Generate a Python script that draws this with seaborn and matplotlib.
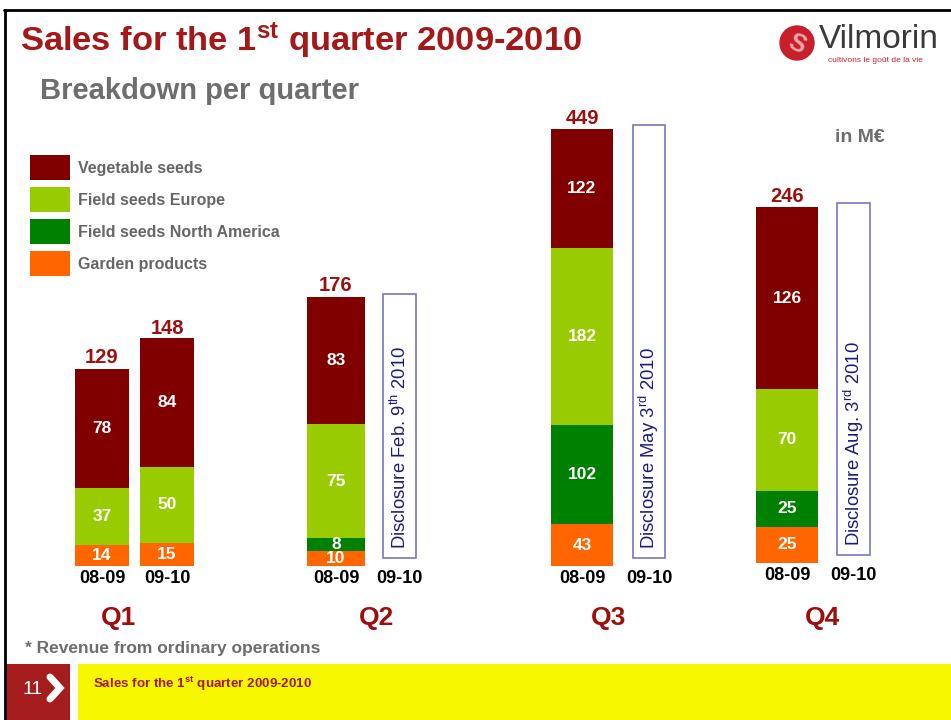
import numpy as np
import pandas as pd
import matplotlib
matplotlib.use("Agg")
import matplotlib.pyplot as plt
from matplotlib.patches import Patch, Ellipse, Rectangle
import seaborn as sns

quarters = ["Q1", "Q2", "Q3", "Q4"]
periods = ["08-09", "09-10"]
segments = ["Vegetable seeds", "Field seeds Europe",
            "Field seeds North America", "Garden products"]
seg_colors = ["#800000", "#99cc00", "#008000", "#ff6600"]

# 08-09 breakdown per quarter (M EUR)
vegetable_0809 = [78, 83, 122, 126]
field_eu_0809 = [37, 75, 182, 70]
field_na_0809 = [0, 8, 102, 25]
garden_0809 = [14, 10, 43, 25]
total_0809 = [129, 176, 449, 246]

# 09-10: only Q1 disclosed
vegetable_0910 = [84, None, None, None]
field_eu_0910 = [50, None, None, None]
field_na_0910 = [0, None, None, None]
garden_0910 = [15, None, None, None]
total_0910 = [148, None, None, None]

disclosure = [None, "Disclosure Feb. 9$^{th}$ 2010",
              "Disclosure May 3$^{rd}$ 2010", "Disclosure Aug. 3$^{rd}$ 2010"]

sns.set_theme(style="white")
plt.rcParams["font.family"] = ["Liberation Sans", "DejaVu Sans"]
plt.rcParams["mathtext.fontset"] = "custom"
plt.rcParams["mathtext.rm"] = "Liberation Sans"
plt.rcParams["mathtext.it"] = "Liberation Sans:italic"
plt.rcParams["mathtext.bf"] = "Liberation Sans:bold"
plt.rcParams["mathtext.default"] = "regular"

rows = []
for i, q in enumerate(quarters):
    series = {
        "08-09": [vegetable_0809, field_eu_0809, field_na_0809, garden_0809],
        "09-10": [vegetable_0910, field_eu_0910, field_na_0910, garden_0910],
    }
    for p, arrs in series.items():
        cum = 0
        # stack from the bottom up
        for seg, arr in zip(segments[::-1], arrs[::-1]):
            v = arr[i]
            if v is None:
                continue
            cum += v
            rows.append({"quarter": q, "period": p, "segment": seg,
                         "value": v, "top": cum})
df = pd.DataFrame(rows)

W, H = 951, 720
fig = plt.figure(figsize=(W / 100, H / 100), dpi=100)
fig.patch.set_facecolor("white")

# (first bar centre px, spacing px, bar px, box px, baseline px, units shown)
layout = [(102, 65, 54, 0, 566, 298),
          (336, 63.5, 58, 33, 566, 298),
          (582, 67, 62, 32, 566, 469),
          (787, 66.5, 62, 33, 563, 313)]
q_label_x = [118, 376, 609, 822]
top_px = 110

red = "#a31919"
for i, q in enumerate(quarters):
    c0, sp, bw, boxw, base, ymax = layout[i]
    left = c0 - sp / 2
    ax = fig.add_axes([left / W, 1 - base / H, 2 * sp / W, (base - top_px) / H])
    ax.set_facecolor("none")
    sub = df[(df.quarter == q) & (df.value > 0)]
    for seg, col in zip(segments, seg_colors):
        s = sub[sub.segment == seg]
        if s.empty:
            continue
        sns.barplot(data=s, x="period", y="top", order=periods, color=col,
                    width=bw / sp, saturation=1, errorbar=None, linewidth=0,
                    ax=ax)
    for _, r in sub.iterrows():
        xpos = periods.index(r.period)
        ax.text(xpos, r.top - r.value / 2, str(r.value), ha="center",
                va="center", color="white", fontsize=12.5, fontweight="bold")
    for j, tot in enumerate([total_0809[i], total_0910[i]]):
        if tot is not None:
            ax.annotate(str(tot), (j, tot), xytext=(0, 1),
                        textcoords="offset points", ha="center", va="bottom",
                        color="#9c0f0f", fontsize=14.5, fontweight="bold")
    if disclosure[i] is not None:
        b0 = 0.018 * ymax
        ax.bar(1, total_0809[i] * 1.01 - b0, bottom=b0, width=boxw / sp,
               facecolor="white", edgecolor="#7777c4", linewidth=1.2)
        ax.text(1, b0 + 0.02 * ymax, disclosure[i], rotation=90, ha="center",
                va="bottom", color="#1c1c80", fontsize=13.3)
    ax.set_ylim(0, ymax)
    ax.set_xlim(-0.5, 1.5)
    ax.set_xlabel("")
    ax.set_ylabel("")
    ax.set_yticks([])
    ax.tick_params(axis="x", length=0, labelsize=13, pad=3, labelcolor="black")
    for t in ax.get_xticklabels():
        t.set_fontweight("bold")
    sns.despine(ax=ax, left=True, bottom=True)

# slide decorations in pixel coordinates
ov = fig.add_axes([0, 0, 1, 1], zorder=-1)
ov.set_xlim(0, W)
ov.set_ylim(H, 0)
ov.axis("off")
ov.plot([4, W], [10, 10], color="black", lw=2)
ov.plot([5, 5], [10, H], color="black", lw=2)

ov.text(20, 41, r"Sales for the 1$^{\mathbf{st}}$ quarter 2009-2010",
        color=red, fontsize=24.8, fontweight="bold", va="center")
ov.text(40, 91, "Breakdown per quarter", color="#6d6d6d", fontsize=21,
        fontweight="bold", va="center")
ov.text(835, 138, "in M€", color="#6d6d6d", fontsize=14, fontweight="bold",
        va="center")

# logo
ov.add_patch(Ellipse((797, 43), 34, 34, color="#c8202a"))
ov.text(797, 44, "S", color="white", fontsize=18, fontweight="bold",
        ha="center", va="center", rotation=-25, alpha=0.6)
ov.text(819, 40, "Vilmorin", color="#3a3a3a", fontsize=24, va="center")
ov.text(828, 60, "cultivons le goût de la vie", color="#c8202a", fontsize=6,
        va="center")

for x, q in zip(q_label_x, quarters):
    ov.text(x, 618, q, color="#9c0f0f", fontsize=19, fontweight="bold",
            ha="center", va="center")

ov.text(25, 648, "* Revenue from ordinary operations", color="#6d6d6d",
        fontsize=12.5, fontweight="bold", va="center")

ov.add_patch(Rectangle((6, 664), 64, 56, color="#a51c1c", lw=0))
ov.add_patch(Rectangle((78, 664), W - 78, 56, color="#f7f700", lw=0))
ov.text(23, 690, "11", color="white", fontsize=14, va="center")
ov.plot([50, 60, 50], [677, 688, 699], color="white", lw=5,
        solid_joinstyle="miter")
ov.text(93, 684, r"Sales for the 1$^{\mathbf{st}}$ quarter 2009-2010",
        color="#a31919", fontsize=9.6, fontweight="bold", va="center")

handles = [Patch(facecolor=c, edgecolor="none") for c in seg_colors]
fig.legend(handles, segments, loc="upper left",
           bbox_to_anchor=(30 / W, 1 - 155 / H), frameon=False,
           prop={"weight": "bold", "size": 11.5}, labelcolor="#666666",
           handlelength=2.5, handleheight=2.03, labelspacing=0.44,
           handletextpad=0.5, borderpad=0, borderaxespad=0)

fig.savefig("out.png", dpi=100)
